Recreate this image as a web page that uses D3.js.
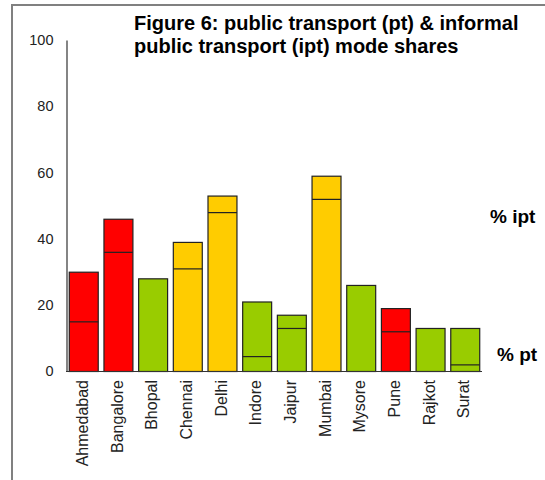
<!DOCTYPE html>
<html><head><meta charset="utf-8">
<script src="https://cdn.jsdelivr.net/npm/d3@7/dist/d3.min.js"></script>
<style>body{margin:0;background:#fff}svg{display:block}</style>
</head><body>
<script>
const cities = ["Ahmedabad","Bangalore","Bhopal","Chennai","Delhi","Indore","Jaipur","Mumbai","Mysore","Pune","Rajkot","Surat"];
const ptShare = [15, 36, 28, 31, 48, 4.5, 13, 52, 26, 12, 13, 2];
const iptShare = [15, 10, 0, 8, 5, 16.5, 4, 7, 0, 7, 0, 11];
const colorGroup = ["red","red","green","yellow","yellow","green","green","yellow","green","red","green","green"];
const yTicks = [0,20,40,60,80,100];
const palette = {red:"#FF0000", green:"#99CC00", yellow:"#FFCC00"};

const W=545,H=480;
const FONT="Liberation Sans, Arial, sans-serif";
const svg=d3.select("body").append("svg").attr("width",W).attr("height",H);
svg.append("rect").attr("width",W).attr("height",H).attr("fill","#fff");
// frame
svg.append("path").attr("d","M12,480 V5 H545").attr("fill","none").attr("stroke","#808080").attr("stroke-width",2);

const x=d3.scaleBand().domain(cities).range([66,482]).paddingInner(0.165).paddingOuter(0.08);
const y=d3.scaleLinear().domain([0,100]).range([371,40]);

const g=svg.append("g");
cities.forEach((c,i)=>{
  const pt=ptShare[i], ipt=iptShare[i];
  const col=palette[colorGroup[i]];
  g.append("rect").attr("x",x(c)+0.5).attr("y",y(pt+ipt)+0.5)
    .attr("width",x.bandwidth()).attr("height",y(0)-y(pt+ipt))
    .attr("fill",col).attr("stroke","#222").attr("stroke-width",1.2);
  if(ipt>0 && pt>0){
    g.append("line").attr("x1",x(c)+0.5).attr("x2",x(c)+x.bandwidth()+0.5)
      .attr("y1",y(pt)+0.5).attr("y2",y(pt)+0.5).attr("stroke","#222").attr("stroke-width",1.2);
  }
});

// axes
const yAxis=d3.axisLeft(y).tickValues(yTicks).tickSize(0).tickPadding(13);
const ya=svg.append("g").attr("transform","translate(66.5,0)").call(yAxis);
ya.select(".domain").attr("stroke","#333").attr("stroke-width",1.2);
ya.selectAll("text").attr("font-family",FONT).attr("font-size",14.5).attr("fill","#222");

svg.append("line").attr("x1",66).attr("x2",482).attr("y1",371.5).attr("y2",371.5).attr("stroke","#333").attr("stroke-width",1.2);

const xa=svg.append("g").attr("transform","translate(0,371)").call(d3.axisBottom(x).tickSize(0));
xa.select(".domain").remove();
xa.selectAll("text").attr("font-family",FONT).attr("font-size",16).attr("fill","#222")
  .attr("transform","rotate(-90)").attr("text-anchor","end").attr("x",-9).attr("y",-1).attr("dy","0.35em");

// title
const t=svg.append("text").attr("font-family",FONT).attr("font-weight","bold").attr("font-size",20).attr("fill","#000");
t.append("tspan").attr("x",134).attr("y",30).text("Figure 6: public transport (pt) & informal");
t.append("tspan").attr("x",134).attr("y",53).text("public transport (ipt) mode shares");

svg.append("text").attr("x",490).attr("y",223).attr("font-family",FONT).attr("font-weight","bold").attr("font-size",19).text("% ipt");
svg.append("text").attr("x",497).attr("y",361).attr("font-family",FONT).attr("font-weight","bold").attr("font-size",19).text("% pt");
</script>
</body></html>
